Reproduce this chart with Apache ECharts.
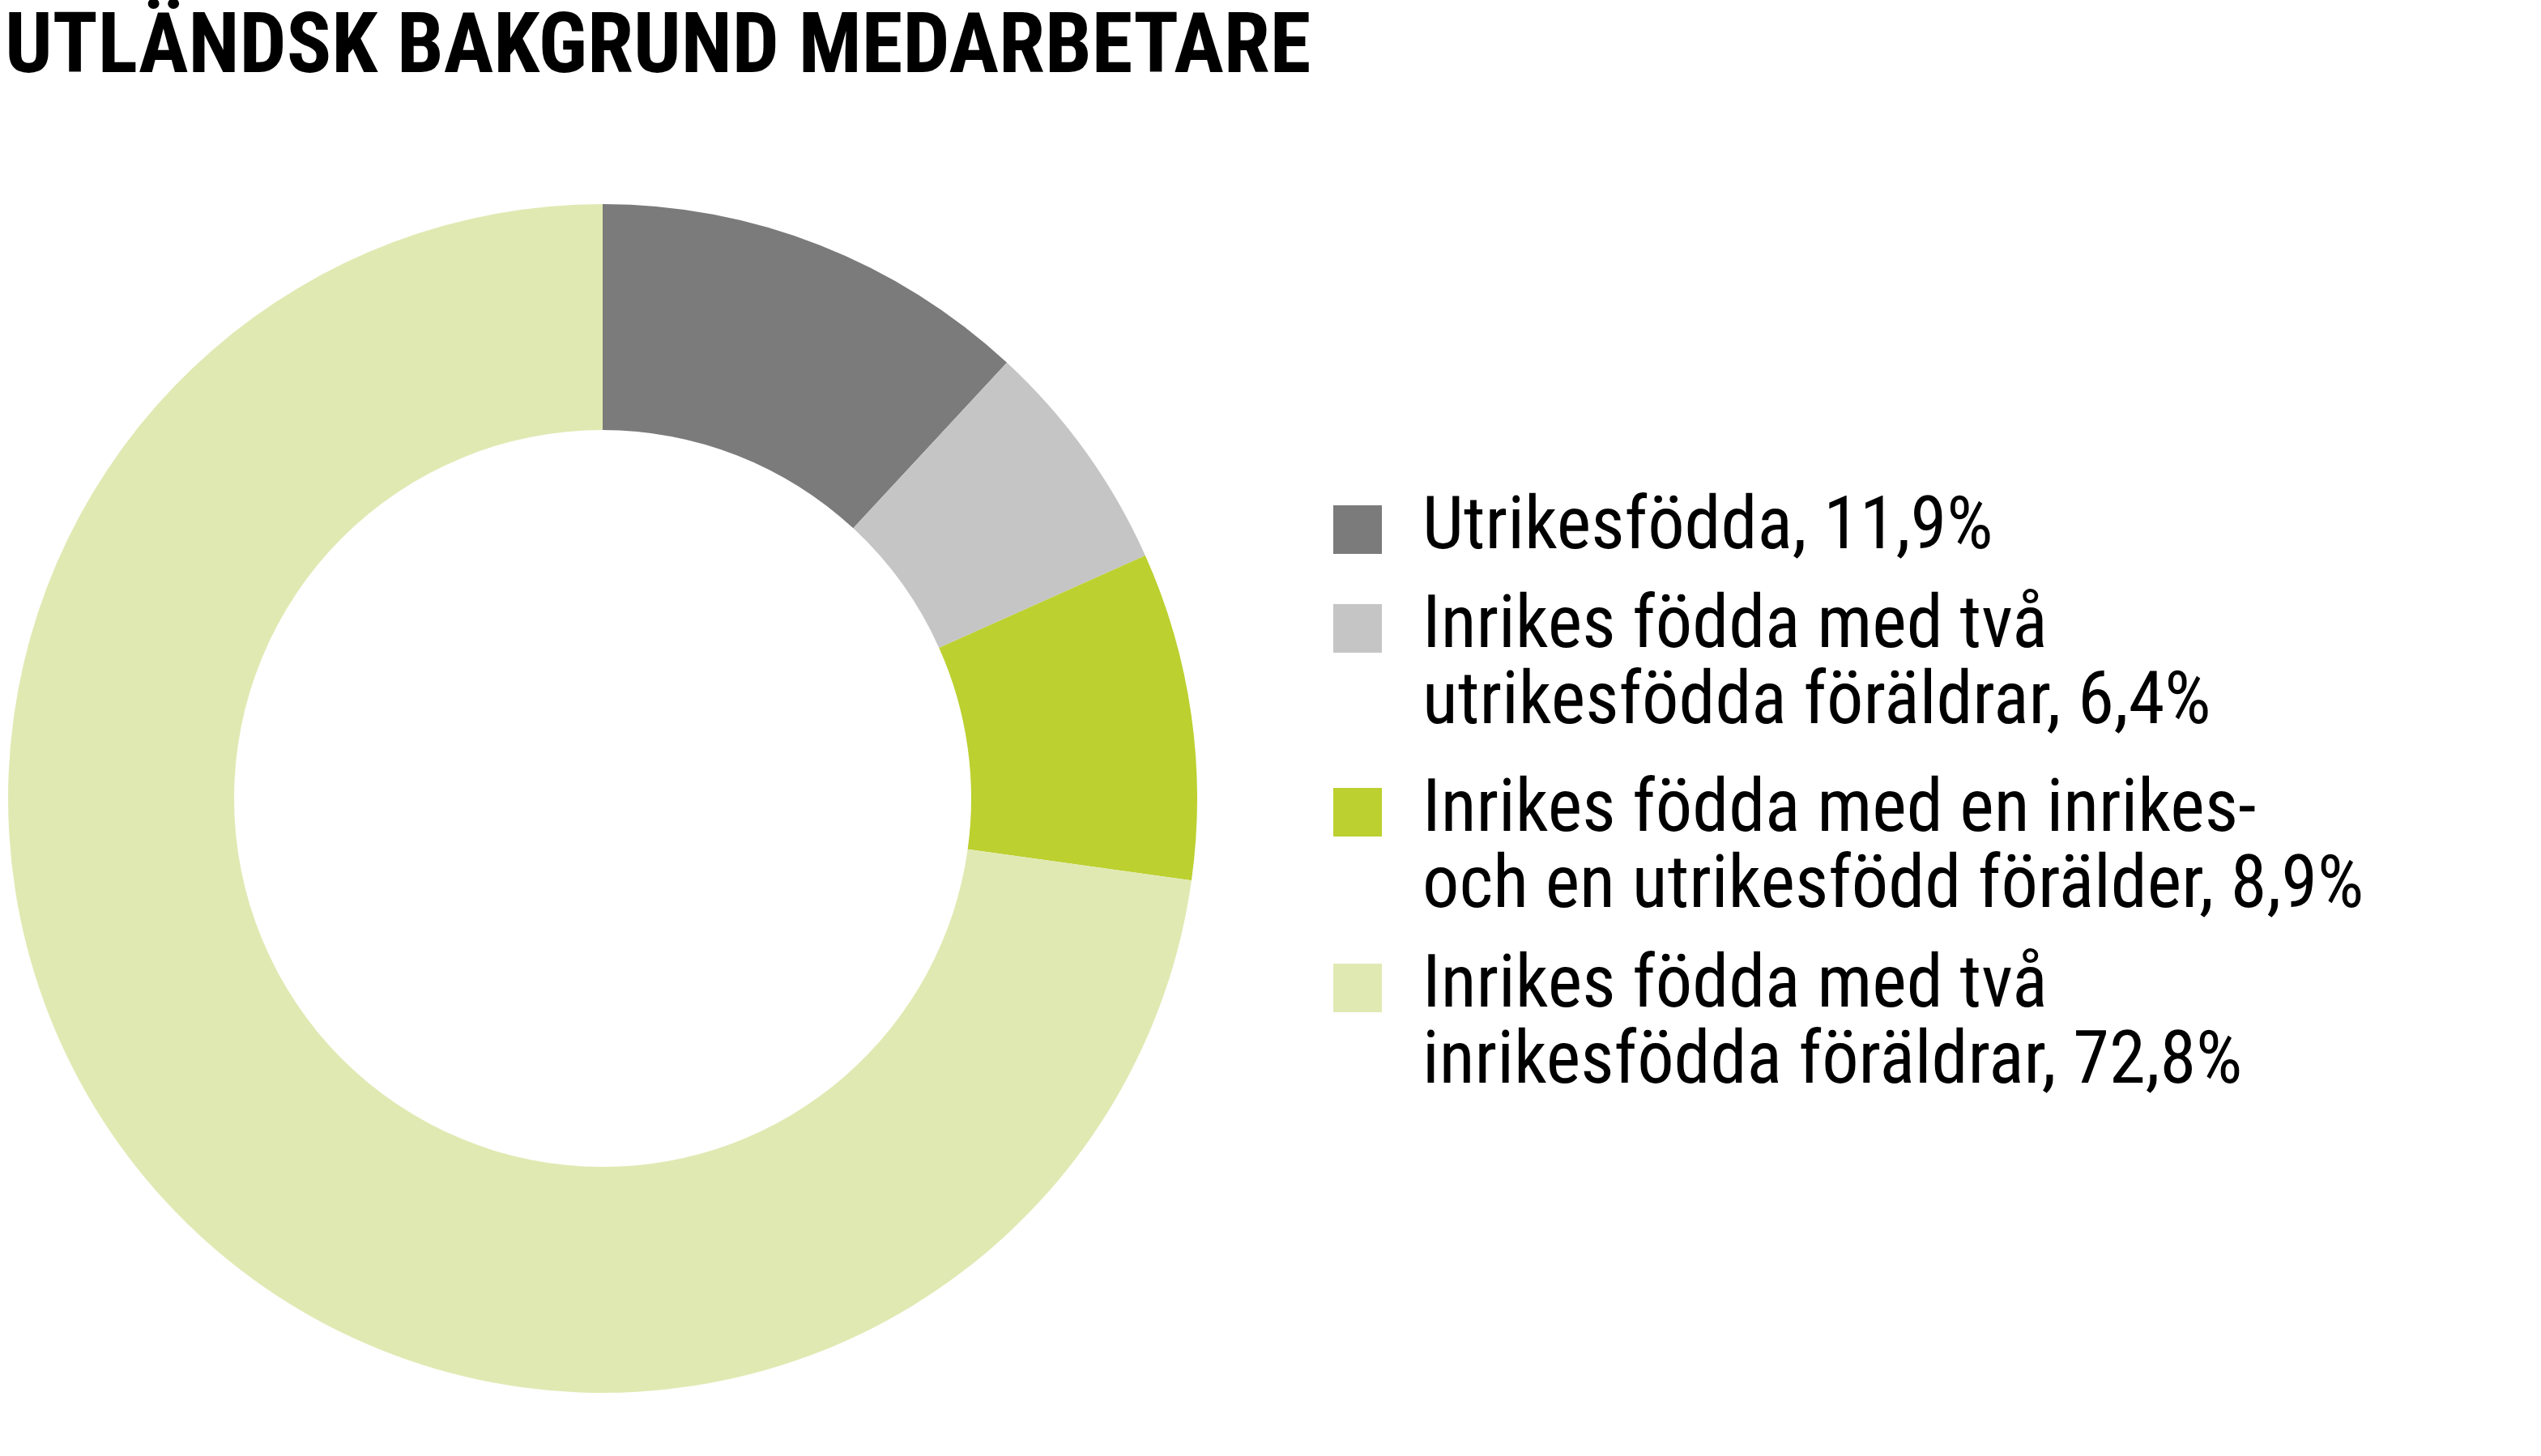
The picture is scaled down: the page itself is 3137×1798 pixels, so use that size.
<!DOCTYPE html>
<html>
<head>
<meta charset="utf-8">
<script src="https://cdn.jsdelivr.net/npm/echarts@6/dist/echarts.min.js"></script>
<style>
html,body{margin:0;padding:0;background:#fff;}
#chart{width:3137px;height:1798px;}
</style>
</head>
<body>
<div id="chart"></div>
<script>
const titleText = 'UTLÄNDSK BAKGRUND MEDARBETARE';
const categories = [
  'Utrikesfödda',
  'Inrikes födda med två\nutrikesfödda föräldrar',
  'Inrikes födda med en inrikes-\noch en utrikesfödd förälder',
  'Inrikes födda med två\ninrikesfödda föräldrar'
];
const values = [11.9, 6.4, 8.9, 72.8];
const colors = ['#7b7b7b', '#c5c5c5', '#bcd030', '#e1e9b3'];

const FONT = 'Roboto';
const LH = 94;
const legendTops = [607, 635, 862, 1079];

const chart = echarts.init(document.getElementById('chart'), null, {renderer: 'canvas'});

const fmt = v => v.toFixed(1).replace('.', ',') + '%';

const legends = categories.map((c, i) => {
  const multi = c.indexOf('\n') >= 0;
  return {
    show: true,
    orient: 'vertical',
    left: 1646,
    top: legendTops[i],
    padding: 0,
    itemWidth: 60,
    itemHeight: 60,
    icon: 'rect',
    selectedMode: false,
    data: [c],
    // a leading empty line keeps the first text line level with the icon
    formatter: name => (multi ? '\n' : '') + name + ', ' + fmt(values[categories.indexOf(name)]),
    textStyle: {
      fontFamily: FONT,
      fontWeight: 'normal condensed',
      fontSize: 90.5,
      lineHeight: LH,
      color: '#000',
      padding: [0, 0, 0, 45]
    }
  };
});

chart.setOption({
  animation: false,
  color: colors,
  title: {
    text: titleText,
    left: 6,
    top: 12,
    padding: 0,
    textStyle: {
      fontFamily: FONT,
      fontWeight: 'bold condensed',
      fontSize: 103,
      lineHeight: 103,
      color: '#000'
    }
  },
  legend: legends,
  series: [{
    type: 'pie',
    center: [744, 986],
    radius: [455, 734],
    startAngle: 90,
    clockwise: true,
    label: {show: false},
    labelLine: {show: false},
    emphasis: {disabled: true},
    silent: true,
    itemStyle: {borderWidth: 0},
    data: categories.map((c, i) => ({name: c, value: values[i]}))
  }]
});
</script>
</body>
</html>
